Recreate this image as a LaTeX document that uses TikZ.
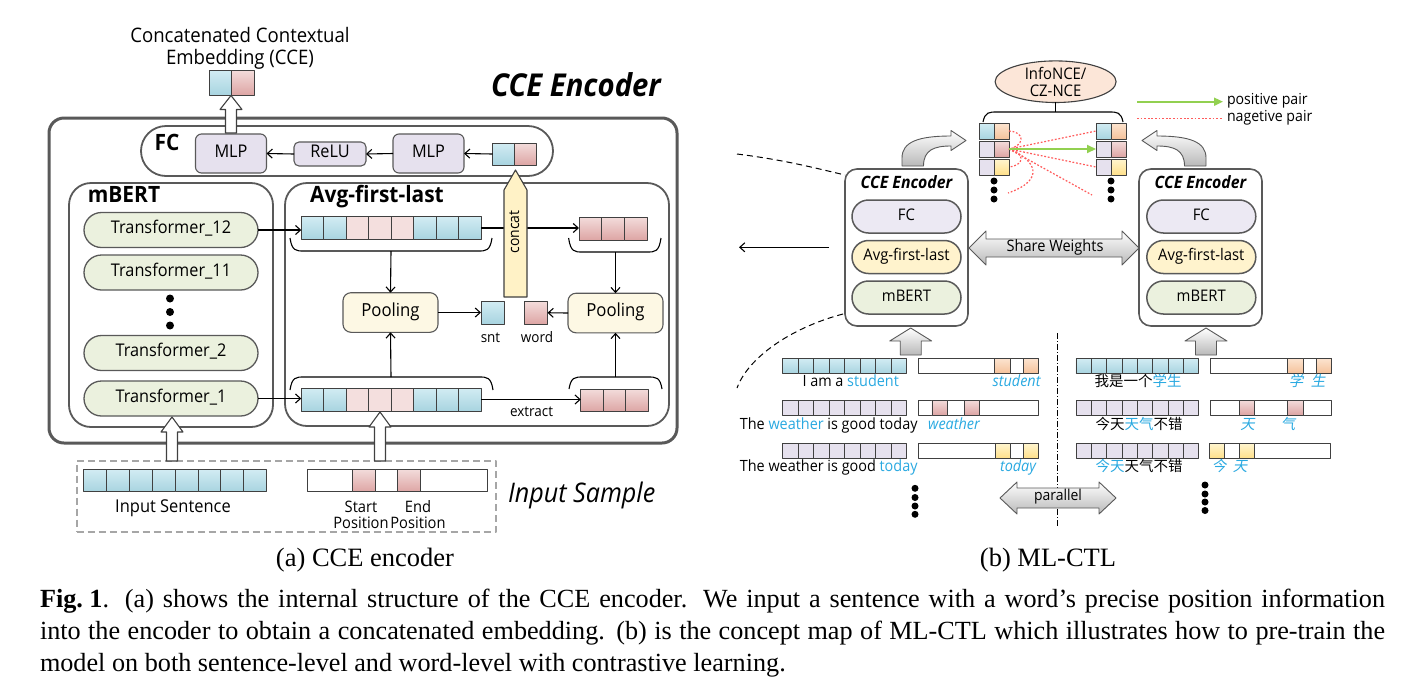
\documentclass[tikz,border=0pt]{standalone}
\usepackage{fontspec}
\setmainfont{Liberation Serif}
\newfontfamily\df{Open Sans}[FakeStretch=0.93]
\newfontfamily\cjk{Noto Sans CJK SC}
\newfontfamily\cjkit{Noto Sans CJK SC}[FakeSlant=0.2]
\usetikzlibrary{shapes.geometric,shapes.misc,arrows.meta,calc}
\definecolor{lineg}{HTML}{404040}
\definecolor{boxg}{HTML}{595959}
\definecolor{blueT}{HTML}{D2ECF3}
\definecolor{blueB}{HTML}{A8D4E0}
\definecolor{pinkT}{HTML}{F3DCDB}
\definecolor{pinkB}{HTML}{DDA5A4}
\definecolor{pinkL}{HTML}{F4DFDE}
\definecolor{lav}{HTML}{E6E1EE}
\definecolor{orT}{HTML}{FCE4D0}
\definecolor{orB}{HTML}{F5C29B}
\definecolor{yeT}{HTML}{FFF5CF}
\definecolor{yeB}{HTML}{FFE08A}
\definecolor{greenp}{HTML}{EBF1DE}
\definecolor{lavp}{HTML}{ECE9F3}
\definecolor{yelp}{HTML}{FFF3CD}
\definecolor{poolf}{HTML}{FDF8E4}
\definecolor{peach}{HTML}{FCE6D8}
\definecolor{txtb}{HTML}{29A9E1}
\definecolor{posg}{HTML}{92D050}
\definecolor{negr}{HTML}{FF5B5B}
\definecolor{concatf}{HTML}{FFF2C6}
\newcommand{\fs}[2]{\fontsize{#1}{#2}\selectfont}
\newcommand{\bl}[1]{\textcolor{txtb}{#1}}
\newcommand{\vecrow}[7]{%
  \foreach \c [count=\i from 0] in {#7} {\path[\c] (#2+\i*#4,#3) rectangle (#2+\i*#4+#4,#3+#5);}
  \node[inner sep=0, minimum width={#6*#4}, minimum height={#5}] (#1) at (#2+#6*#4/2, #3+#5/2) {};
}
\newcommand{\hupa}[7]{\path[#7] (#1-#4,#2) -- (#1-#4,#3+#6) -- (#1-#5,#3+#6) -- (#1,#3) -- (#1+#5,#3+#6) -- (#1+#4,#3+#6) -- (#1+#4,#2) -- cycle;}
\newcommand{\brk}[4]{\draw[brkst] (#1,#3) .. controls (#1+2,#4) and (#1+6,#4) .. (#1+14,#4) -- (#2-14,#4) .. controls (#2-6,#4) and (#2-2,#4) .. (#2,#3);}
\tikzset{
  every node/.append style={inner sep=0pt, outer sep=0pt},
  lbl/.style={text height=0.72em, text depth=0pt},
  cellb/.style={draw=lineg, line width=0.8pt, top color=blueT, bottom color=blueB},
  cellp/.style={draw=lineg, line width=0.8pt, top color=pinkT, bottom color=pinkB},
  cellpl/.style={draw=lineg, line width=0.8pt, fill=pinkL},
  cellv/.style={draw=lineg, line width=0.8pt, fill=lav},
  cello/.style={draw=lineg, line width=0.8pt, top color=orT, bottom color=orB},
  celly/.style={draw=lineg, line width=0.8pt, top color=yeT, bottom color=yeB},
  arr/.style={draw=black, line width=1.1pt, -{Straight Barb[length=5pt,width=9pt]}},
  brkst/.style={draw=black, line width=1.1pt},
  hollow/.style={draw=lineg, fill=white, line width=1.1pt},
  grayarr/.style={draw=boxg, top color=white, bottom color=gray!55, line width=0.9pt},
  bigbox/.style={draw=boxg, line width=1.8pt, rounded corners=22, fill=white},
  tpill/.style={rounded rectangle, draw=boxg, line width=1.3pt, fill=greenp, minimum width=174, minimum height=35, lbl, font=\df\fs{17.5}{21}},
  sbox/.style={draw=boxg, line width=1.1pt, rounded corners=6, lbl, font=\df\fs{17.5}{21}},
  bpill/.style={rounded rectangle, draw=boxg, line width=1.5pt, minimum width=109, minimum height=33, lbl, font=\df\fs{16}{19}},
  dot/.style={circle, fill=black, minimum size=#1},
  negst/.style={draw=negr, line width=1.2pt, dash pattern=on 1.8pt off 1.8pt},
  posarr/.style={draw=posg, line width=1.8pt, -{Triangle[length=9pt,width=8pt]}},
}
\begin{document}
\begin{tikzpicture}[x=1pt,y=-1pt, font=\df\fs{16}{19}, line join=round]
\useasboundingbox (0,0) rectangle (1420,689);
\fill[white] (0,0) rectangle (1420,689);

% ================= panel (a) =================
\node[align=center, font=\df\fs{20}{22}] (ccet) at (240,48) {Concatenated Contextual\\Embedding (CCE)};
\vecrow{cce}{209}{70}{22.5}{25}{2}{cellb,cellp}
\node[lbl, font=\df\bfseries\itshape\fs{31.5}{35}] (encl) at (576,92.5) {CCE Encoder};

\node[draw=boxg, line width=3pt, rounded corners=15, minimum width=628, minimum height=325] (enc) at (363,280.5) {};
\node[rounded rectangle, draw=boxg, line width=1.8pt, minimum width=412, minimum height=50] (fc) at (347,151) {};
\node[lbl, font=\df\bfseries\fs{22.5}{26}] (fcl) at (167,146.5) {FC};
\node[sbox, fill=lav, minimum width=71, minimum height=39] (mlp1) at (231,153.5) {MLP};
\node[sbox, fill=lav, rounded corners=5, minimum width=72, minimum height=24] (relu) at (330,154) {ReLU};
\node[sbox, fill=lav, minimum width=71, minimum height=39] (mlp2) at (428.5,153.5) {MLP};
\vecrow{cat}{492.5}{143}{21.75}{22}{2}{cellb,cellp}
\draw[arr] (cat.west) -- (mlp2.east);
\draw[arr] (mlp2.west) -- (relu.east);
\draw[arr] (relu.west) -- (mlp1.east);
\hupa{231}{133}{95.5}{5.5}{11}{14}{hollow}

\node[bigbox, minimum width=204, minimum height=244] (mbox) at (171,305) {};
\node[bigbox, minimum width=384, minimum height=243] (abox) at (477,304.5) {};
\node[lbl, font=\df\bfseries\fs{22.5}{26}] (mbl) at (124,198.5) {mBERT};
\node[lbl, font=\df\bfseries\fs{22.5}{26}] (avgl) at (377,198.5) {Avg-first-last};

\node[tpill] (t12) at (171,230) {Transformer\_12};
\node[tpill] (t11) at (171,272.5) {Transformer\_11};
\node[dot=8] (d1) at (170,298.5) {};
\node[dot=8] (d2) at (170,312) {};
\node[dot=8] (d3) at (170,325.5) {};
\node[tpill] (t2) at (171,353) {Transformer\_2};
\node[tpill] (t1) at (171,398.5) {Transformer\_1};

\vecrow{tops}{301.3}{216.7}{22.46}{22.6}{8}{cellb,cellb,cellpl,cellpl,cellpl,cellb,cellb,cellb}
\vecrow{rtop}{579}{217}{22.7}{23}{3}{cellp,cellp,cellp}
\vecrow{bots}{301.3}{388}{22.46}{23}{8}{cellb,cellb,cellpl,cellpl,cellpl,cellb,cellb,cellb}
\vecrow{rbot}{580.8}{389}{22.5}{22.5}{3}{cellp,cellp,cellp}
\brk{290}{492}{238}{251}
\brk{568.6}{661}{238}{252}
\brk{290}{493}{390}{377}
\brk{569}{662}{389}{377}
\coordinate (b1) at (391,251);
\coordinate (b2) at (615.5,252);
\coordinate (b3) at (391,377);
\coordinate (b4) at (615.5,377);

\node[sbox, fill=poolf, rounded corners=8, minimum width=95, minimum height=39.6, font=\df\fs{18}{21}] (pool1) at (390.5,312.5) {Pooling};
\node[sbox, fill=poolf, rounded corners=8, minimum width=95, minimum height=39.6, font=\df\fs{18}{21}] (pool2) at (615.5,313) {Pooling};
\vecrow{snt}{481}{301}{23}{23}{1}{cellb}
\vecrow{word}{524.5}{301.5}{23}{22.5}{1}{cellp}
\node[lbl, font=\df\fs{14.5}{17}] (sntl) at (490.5,338.5) {snt};
\node[lbl, font=\df\fs{14.5}{17}] (wordl) at (537,338.5) {word};

\draw[arr] (b1) -- (pool1.north);
\draw[arr] (b2) -- (pool2.north);
\draw[arr] (b3) -- (pool1.south);
\draw[arr] (b4) -- (pool2.south);
\draw[arr] (pool1.east) -- (snt.west);
\draw[arr] (pool2.west) -- (word.east);
\draw[arr] (t12.east) -- (t12.east -| tops.west);
\draw[arr] (tops.east) -- (tops.east -| rtop.west);
\draw[arr] (t1.east) -- (t1.east -| bots.west);
\draw[arr] (bots.east) -- (bots.east -| rbot.west);
\node[lbl, font=\df\fs{14.5}{17}] (extr) at (531.6,413) {extract};

\path[draw=lineg, line width=1.1pt, fill=concatf] (504,297) -- (504,190) -- (515.5,170) -- (527,190) -- (527,297) -- cycle;
\node[lbl, rotate=90, font=\df\fs{15}{18}] (cattxt) at (515.5,232) {concat};

% input sample
\node[draw=gray!70, dash pattern=on 7pt off 4pt, line width=1.8pt, minimum width=419, minimum height=71] (inbox) at (286.2,496.2) {};
\vecrow{insen}{83.7}{469.3}{22.86}{22.4}{8}{cellb,cellb,cellb,cellb,cellb,cellb,cellb,cellb}
\node[lbl, font=\df\fs{17.7}{21}] (insl) at (173,509) {Input Sentence};
\node[draw=lineg, line width=0.8pt, fill=white, minimum width=179.7, minimum height=22.4] (inpos) at (397.55,480.5) {};
\path[cellp] (352,469.3) rectangle (375.4,491.7);
\path[cellp] (397.8,469.3) rectangle (420.2,491.7);
\node[align=center, font=\df\fs{15.8}{16}] (stl) at (361,515) {Start\\Position};
\node[align=center, font=\df\fs{15.8}{16}] (enl) at (418,515) {End\\Position};
\node[lbl, font=\df\itshape\fs{27}{30}] (insam) at (581.7,499) {Input Sample};
\hupa{172}{461}{417}{5.5}{11}{15}{hollow}
\hupa{380}{461}{412}{5.5}{11}{15}{hollow}

% ================= panel (b) =================
\node[ellipse, draw=lineg, line width=1.1pt, fill=peach, minimum width=121, minimum height=37, align=center, font=\df\fs{16}{17}] (nce) at (1055.6,81.7) {InfoNCE/\\CZ-NCE};
\coordinate (brtop) at (1055.6,112);
\draw[line width=1.2pt] (nce.south) -- (brtop);
\brk{983}{1123}{122}{112}

\vecrow{L1}{979}{123}{15}{16}{2}{cellb,cello}
\vecrow{L2}{979}{141}{15}{16}{2}{cellv,cellp}
\vecrow{L3}{979}{159}{15}{16}{2}{cellv,celly}
\vecrow{R1}{1096}{123}{15}{16}{2}{cellb,cello}
\vecrow{R2}{1096}{141}{15}{16}{2}{cellv,cellp}
\vecrow{R3}{1096}{159}{15}{16}{2}{cellv,celly}
\node[dot=7] (ld1) at (994,181) {};
\node[dot=7] (ld2) at (994,190) {};
\node[dot=7] (ld3) at (994,199) {};
\node[dot=7] (rd1) at (1111,181) {};
\node[dot=7] (rd2) at (1111,190) {};
\node[dot=7] (rd3) at (1111,199) {};
\coordinate (Ld) at (1008,193);
\coordinate (Rd) at (1092,195);
\draw[negst] (L2.east) -- (R1.west);
\draw[negst] (L2.east) -- (R3.west);
\draw[negst] (L2.east) -- (Rd);
\draw[negst] (L1.east) .. controls (1026,132) and (1024,146) .. (L2.east);
\draw[negst] (L2.east) .. controls (1024,152) and (1026,165) .. (L3.east);
\draw[negst] (L2.east) .. controls (1036,160) and (1046,180) .. (Ld);
\draw[posarr] (L2.east) -- (R2.west);

\coordinate (lg1) at (1137,101.7);
\coordinate (lg2) at (1223,101.7);
\coordinate (lg3) at (1137,118.3);
\coordinate (lg4) at (1223,118.3);
\draw[posarr] (lg1) -- (lg2);
\draw[negst] (lg3) -- (lg4);
\node[lbl, anchor=west, font=\df\fs{15.2}{18}] (lgt1) at (1227,101) {positive pair};
\node[lbl, anchor=west, font=\df\fs{15.2}{18}] (lgt2) at (1227,118) {nagetive pair};

% curved arrows
\path[grayarr] (902,166) -- (902,158) .. controls (902,142) and (918,136) .. (951,136) -- (951,130.5) -- (966,140.5) -- (951,150.5) -- (951,146) .. controls (934,146) and (923.5,150) .. (923.5,166) -- cycle;
\begin{scope}[xshift=2108pt, xscale=-1]
\path[grayarr] (902,166) -- (902,158) .. controls (902,142) and (918,136) .. (951,136) -- (951,130.5) -- (966,140.5) -- (951,150.5) -- (951,146) .. controls (934,146) and (923.5,150) .. (923.5,166) -- cycle;
\end{scope}

% encoders
\node[draw=boxg, line width=1.6pt, rounded corners=12, minimum width=123, minimum height=157, fill=white] (encL) at (906.5,247.5) {};
\node[draw=boxg, line width=1.6pt, rounded corners=12, minimum width=123, minimum height=157, fill=white] (encR) at (1200.5,247.5) {};
\node[lbl, font=\df\bfseries\itshape\fs{17}{20}] (encLt) at (906.5,185) {CCE Encoder};
\node[lbl, font=\df\bfseries\itshape\fs{17}{20}] (encRt) at (1200.5,185) {CCE Encoder};
\node[bpill, fill=lavp] (fcL) at (906.5,216.5) {FC};
\node[bpill, fill=yelp] (avL) at (906.5,257) {Avg-first-last};
\node[bpill, fill=greenp] (mbL) at (906.5,297.5) {mBERT};
\node[bpill, fill=lavp] (fcR) at (1201.3,216.5) {FC};
\node[bpill, fill=yelp] (avR) at (1201.3,257) {Avg-first-last};
\node[bpill, fill=greenp] (mbR) at (1201.3,297.5) {mBERT};

\path[grayarr] (969,248) -- (986,231) -- (986,239) -- (1122,239) -- (1122,231) -- (1139,248) -- (1122,265) -- (1122,257) -- (986,257) -- (986,265) -- cycle;
\node[lbl, font=\df\fs{15.7}{18}] (sw) at (1055,247.5) {Share Weights};

\coordinate (la1) at (829,247.3);
\coordinate (la2) at (739,247.3);
\draw[arr] (la1) -- (la2);
\coordinate (dc1) at (737,154);
\coordinate (dc2) at (845,175);
\coordinate (dc3) at (843,314);
\coordinate (dc4) at (737,388);
\draw[line width=1pt, dash pattern=on 6pt off 4pt] (dc1) .. controls (785,160) and (815,168) .. (dc2);
\draw[line width=1pt, dash pattern=on 6pt off 4pt] (dc3) .. controls (790,328) and (748,358) .. (dc4);

\hupa{910.7}{355}{328}{10.5}{21}{13}{grayarr}
\hupa{1206}{355}{328}{10.5}{21}{13}{grayarr}

% rows left
\vecrow{s1}{782.7}{358.3}{15.46}{15}{8}{cellb,cellb,cellb,cellb,cellb,cellb,cellb,cellb}
\vecrow{s2}{782.7}{400}{15.46}{15}{8}{cellv,cellv,cellv,cellv,cellv,cellv,cellv,cellv}
\vecrow{s3}{782.7}{443.3}{15.46}{15}{8}{cellv,cellv,cellv,cellv,cellv,cellv,cellv,cellv}
\node[draw=lineg, line width=0.8pt, fill=white, minimum width=120.3, minimum height=15] (p1) at (978.45,365.8) {};
\path[cello] (994.6,358.3) rectangle (1010.3,373.3);
\path[cello] (1023.4,358.3) rectangle (1038.6,373.3);
\node[draw=lineg, line width=0.8pt, fill=white, minimum width=120.3, minimum height=15] (p2) at (978.45,407.5) {};
\path[cellp] (931.9,400) rectangle (947.5,415);
\path[cellp] (964.5,400) rectangle (979.7,415);
\node[draw=lineg, line width=0.8pt, fill=white, minimum width=120.3, minimum height=15] (p3) at (978.45,450.8) {};
\path[celly] (995.4,443.3) rectangle (1010.7,458.3);
\path[celly] (1023.8,443.3) rectangle (1038.6,458.3);

\node[lbl, font=\df\fs{15.5}{18}] (e1) at (850.7,383.3) {I am a \bl{student}};
\node[lbl, font=\df\fs{15.5}{18}] (e2) at (828.7,425.7) {The \bl{weather} is good today};
\node[lbl, font=\df\fs{15.5}{18}] (e3) at (828.7,468.3) {The weather is good \bl{today}};
\node[lbl, font=\df\itshape\fs{15.5}{18}, text=txtb] (w1) at (1016.6,383.3) {student};
\node[lbl, font=\df\itshape\fs{15.5}{18}, text=txtb] (w2) at (954,425.7) {weather};
\node[lbl, font=\df\itshape\fs{15.5}{18}, text=txtb] (w3) at (1018,468.3) {today};

% rows right
\vecrow{s4}{1075.9}{358.3}{15.36}{15}{8}{cellb,cellb,cellb,cellb,cellb,cellb,cellb,cellb}
\vecrow{s5}{1075.9}{400}{15.36}{15}{8}{cellv,cellv,cellv,cellv,cellv,cellv,cellv,cellv}
\vecrow{s6}{1075.9}{443.3}{15.36}{15}{8}{cellv,cellv,cellv,cellv,cellv,cellv,cellv,cellv}
\node[draw=lineg, line width=0.8pt, fill=white, minimum width=120.7, minimum height=15] (p4) at (1271.05,365.8) {};
\path[cello] (1287.8,358.3) rectangle (1303.5,373.3);
\path[cello] (1316.2,358.3) rectangle (1331.4,373.3);
\node[draw=lineg, line width=0.8pt, fill=white, minimum width=120.7, minimum height=15] (p5) at (1271.05,407.5) {};
\path[cellp] (1239.5,400) rectangle (1254.7,415);
\path[cellp] (1287.8,400) rectangle (1303.5,415);
\node[draw=lineg, line width=0.8pt, fill=white, minimum width=121, minimum height=15] (p6) at (1269.5,450.8) {};
\path[celly] (1209,443.3) rectangle (1224.2,458.3);
\path[celly] (1239.5,443.3) rectangle (1254.7,458.3);

\node[lbl, font=\cjk\fs{14.5}{17}] (c1) at (1138,383.3) {我是一个\bl{学生}};
\node[lbl, font=\cjk\fs{14.5}{17}] (c2) at (1139,425.7) {今天\bl{天气}不错};
\node[lbl, font=\cjk\fs{14.5}{17}] (c3) at (1139,468.3) {\bl{今天}天气不错};
\node[lbl, font=\cjkit\fs{14.5}{17}, text=txtb] (z1) at (1296,383.3) {学};
\node[lbl, font=\cjkit\fs{14.5}{17}, text=txtb] (z2) at (1318,383.3) {生};
\node[lbl, font=\cjkit\fs{14.5}{17}, text=txtb] (z3) at (1247.5,425.7) {天};
\node[lbl, font=\cjkit\fs{14.5}{17}, text=txtb] (z4) at (1288,425.7) {气};
\node[lbl, font=\cjkit\fs{14.5}{17}, text=txtb] (z5) at (1219,468.3) {今};
\node[lbl, font=\cjkit\fs{14.5}{17}, text=txtb] (z6) at (1240,468.3) {天};

\coordinate (vl1) at (1057,333);
\coordinate (vl2) at (1057,527);
\draw[line width=0.8pt, dash pattern=on 6pt off 2pt on 1pt off 2pt] (vl1) -- (vl2);
\path[grayarr] (1000,498) -- (1017,482) -- (1017,488) -- (1099,488) -- (1099,482) -- (1116,498) -- (1099,514) -- (1099,508) -- (1017,508) -- (1017,514) -- cycle;
\node[lbl, font=\df\fs{15}{18}] (par) at (1058,497) {parallel};

\node[dot=7] (bd1) at (915,488.3) {};
\node[dot=7] (bd2) at (915,497.5) {};
\node[dot=7] (bd3) at (915,506) {};
\node[dot=7] (bd4) at (915,514.3) {};
\node[dot=7] (bd5) at (1205,485) {};
\node[dot=7] (bd6) at (1205,494) {};
\node[dot=7] (bd7) at (1205,502) {};
\node[dot=7] (bd8) at (1205,510.5) {};

% ================= captions =================
\node[anchor=base, font=\fs{26.5}{30}] (capa) at (365,566) {(a) CCE encoder};
\node[anchor=base, font=\fs{26.5}{30}] (capb) at (1048,566) {(b) ML-CTL};
\node[anchor=base west, font=\fs{26.2}{30}] (cap1) at (40,607.7) {\makebox[1345pt][s]{\textbf{\mbox{Fig.\ 1}}. (a) shows the internal structure of the CCE encoder. We input a sentence with a word’s precise position information}};
\node[anchor=base west, font=\fs{26.2}{30}] (cap2) at (40,639.5) {\makebox[1345pt][s]{into the encoder to obtain a concatenated embedding. (b) is the concept map of ML-CTL which illustrates how to pre-train the}};
\node[anchor=base west, font=\fs{26.2}{30}] (cap3) at (40,671.5) {model on both sentence-level and word-level with contrastive learning.};
\end{tikzpicture}
\end{document}
